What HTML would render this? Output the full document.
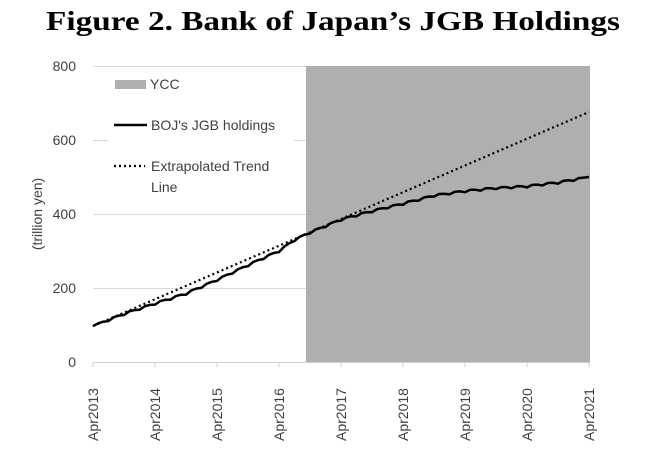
<!DOCTYPE html>
<html><head><meta charset="utf-8"><style>
body{margin:0;background:#fff;width:666px;height:446px;overflow:hidden}
</style></head><body>
<svg id="s" width="666" height="446" xmlns="http://www.w3.org/2000/svg" font-family="Liberation Sans, sans-serif">
<text x="46" y="30" textLength="574" lengthAdjust="spacingAndGlyphs" font-family="Liberation Serif, serif" font-weight="bold" font-size="27">Figure 2.  Bank of Japan’s JGB Holdings</text>
<g stroke="#d9d9d9" stroke-width="1">
<line x1="93" y1="66.5" x2="590" y2="66.5"/>
<line x1="93" y1="140.5" x2="590" y2="140.5"/>
<line x1="93" y1="214.5" x2="590" y2="214.5"/>
<line x1="93" y1="288.5" x2="590" y2="288.5"/>
</g>
<rect x="306" y="66" width="284" height="296" fill="#afafaf"/>
<line x1="93" y1="362.5" x2="590" y2="362.5" stroke="#d0d0d0"/>
<g id="ticks" stroke="#d0d0d0"></g>
<rect x="108" y="72" width="186" height="126" fill="#fff"/>
<g font-size="14" fill="#404040" text-anchor="end">
<text x="76" y="71">800</text><text x="76" y="145">600</text><text x="76" y="219">400</text><text x="76" y="293">200</text><text x="76" y="367">0</text>
</g>
<text transform="translate(42,214) rotate(-90)" text-anchor="middle" font-size="14" fill="#404040">(trillion yen)</text>
<g id="xl" font-size="14" fill="#404040"></g>
<line x1="93" y1="326" x2="589" y2="112" stroke="#000" stroke-width="2.2" stroke-dasharray="2,3"/>
<polyline id="boj" fill="none" stroke="#000" stroke-width="2.5" points=""/>
<rect x="115" y="80" width="31" height="9" fill="#afafaf"/>
<text x="150" y="89" font-size="14" fill="#404040">YCC</text>
<line x1="114" y1="125" x2="147" y2="125" stroke="#000" stroke-width="2.5"/>
<text x="151" y="130" font-size="14" fill="#404040">BOJ's JGB holdings</text>
<line x1="114" y1="166" x2="145" y2="166" stroke="#000" stroke-width="2.2" stroke-dasharray="2,3"/>
<text x="151" y="171" font-size="14" fill="#404040">Extrapolated Trend</text>
<text x="151" y="192" font-size="14" fill="#404040">Line</text>
</svg>
<script>
var ns="http://www.w3.org/2000/svg";
var t=document.getElementById('ticks'),xl=document.getElementById('xl');
for(var i=0;i<=8;i++){var x=93+i*62;
var l=document.createElementNS(ns,'line');l.setAttribute('x1',x);l.setAttribute('x2',x);l.setAttribute('y1',362);l.setAttribute('y2',367);t.appendChild(l);
var tx=document.createElementNS(ns,'text');tx.setAttribute('transform','translate('+(x+5)+',441) rotate(-90)');tx.textContent='Apr'+(2013+i);xl.appendChild(tx);}
var k=[[0,97],[0.5,130],[1,158],[1.5,185],[2,222],[2.5,262],[3,300],[3.25,330],[3.5,350],[4,385],[4.5,408],[5,428],[5.5,450],[6,462],[6.5,470],[7,475],[7.5,485],[8,500]];
function v(yr){for(var j=0;j<k.length-1;j++){if(yr<=k[j+1][0]){var f=(yr-k[j][0])/(k[j+1][0]-k[j][0]);return k[j][1]+f*(k[j+1][1]-k[j][1]);}}return 500;}
var p=[];for(var m=0;m<=96;m++){var yr=m/12;var w=(m%3==0?-3:(m%3==1?2:1))*(m>0&&m<96?1:0);var val=v(yr)+w;p.push((93+yr*62).toFixed(1)+','+(362-val*0.37).toFixed(1));}
document.getElementById('boj').setAttribute('points',p.join(' '));
</script>
</body></html>
